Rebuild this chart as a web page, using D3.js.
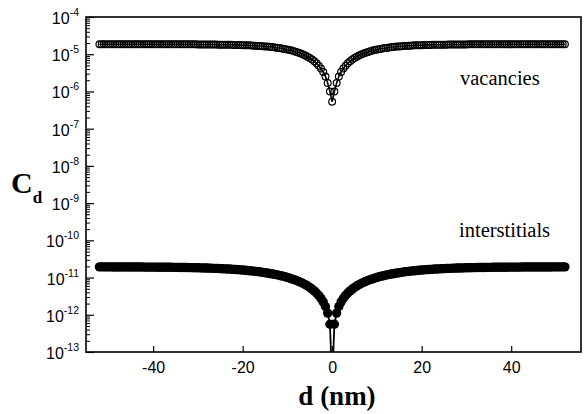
<!DOCTYPE html>
<html><head><meta charset="utf-8">
<script src="https://cdn.jsdelivr.net/npm/d3@7/dist/d3.min.js"></script>
<style>body{margin:0;background:#fff}svg{display:block}</style>
</head><body>
<svg id="chart" width="587" height="414"></svg>
<script>
// distance grid (nm), 0.5 nm steps from -52 to 52
const distance = d3.range(-104, 105).map(i => i / 2);

const vacancies = [
 1.85e-5,1.85e-5,1.85e-5,1.85e-5,
 1.85e-5,1.85e-5,1.85e-5,1.85e-5,1.85e-5,1.85e-5,1.85e-5,1.85e-5,1.85e-5,1.85e-5,
 1.85e-5,1.85e-5,1.85e-5,1.85e-5,1.85e-5,1.85e-5,1.85e-5,1.85e-5,1.85e-5,1.85e-5,
 1.84e-5,1.84e-5,1.84e-5,1.84e-5,1.84e-5,1.84e-5,1.84e-5,1.84e-5,1.84e-5,1.84e-5,
 1.84e-5,1.84e-5,1.84e-5,1.84e-5,1.84e-5,1.84e-5,1.84e-5,1.84e-5,1.84e-5,1.84e-5,
 1.83e-5,1.83e-5,1.83e-5,1.83e-5,1.83e-5,1.83e-5,1.82e-5,1.82e-5,1.82e-5,1.81e-5,
 1.81e-5,1.81e-5,1.80e-5,1.80e-5,1.79e-5,1.79e-5,1.78e-5,1.78e-5,1.77e-5,1.76e-5,
 1.75e-5,1.75e-5,1.74e-5,1.73e-5,1.71e-5,1.70e-5,1.69e-5,1.67e-5,1.66e-5,1.64e-5,
 1.62e-5,1.60e-5,1.58e-5,1.56e-5,1.53e-5,1.50e-5,1.47e-5,1.44e-5,1.41e-5,1.37e-5,
 1.33e-5,1.29e-5,1.25e-5,1.20e-5,1.15e-5,1.10e-5,1.04e-5,9.82e-6,9.20e-6,8.55e-6,
 7.87e-6,7.17e-6,6.45e-6,5.70e-6,4.92e-6,4.13e-6,3.33e-6,2.51e-6,1.68e-6,1.0e-6,
 5.3e-7,
 1.0e-6,1.68e-6,2.51e-6,3.33e-6,4.13e-6,4.92e-6,5.70e-6,6.45e-6,7.17e-6,7.87e-6,
 8.55e-6,9.20e-6,9.82e-6,1.04e-5,1.10e-5,1.15e-5,1.20e-5,1.25e-5,1.29e-5,1.33e-5,
 1.37e-5,1.41e-5,1.44e-5,1.47e-5,1.50e-5,1.53e-5,1.56e-5,1.58e-5,1.60e-5,1.62e-5,
 1.64e-5,1.66e-5,1.67e-5,1.69e-5,1.70e-5,1.71e-5,1.73e-5,1.74e-5,1.75e-5,1.75e-5,
 1.76e-5,1.77e-5,1.78e-5,1.78e-5,1.79e-5,1.79e-5,1.80e-5,1.80e-5,1.81e-5,1.81e-5,
 1.81e-5,1.82e-5,1.82e-5,1.82e-5,1.83e-5,1.83e-5,1.83e-5,1.83e-5,1.83e-5,1.83e-5,
 1.84e-5,1.84e-5,1.84e-5,1.84e-5,1.84e-5,1.84e-5,1.84e-5,1.84e-5,1.84e-5,1.84e-5,
 1.84e-5,1.84e-5,1.84e-5,1.84e-5,1.84e-5,1.84e-5,1.84e-5,1.84e-5,1.84e-5,1.84e-5,
 1.85e-5,1.85e-5,1.85e-5,1.85e-5,1.85e-5,1.85e-5,1.85e-5,1.85e-5,1.85e-5,1.85e-5,
 1.85e-5,1.85e-5,1.85e-5,1.85e-5,1.85e-5,1.85e-5,1.85e-5,1.85e-5,1.85e-5,1.85e-5,
 1.85e-5,1.85e-5,1.85e-5,1.85e-5
];

const interstitials = [
 1.94e-11,1.94e-11,1.94e-11,1.94e-11,
 1.94e-11,1.94e-11,1.93e-11,1.93e-11,1.93e-11,1.93e-11,1.93e-11,1.93e-11,1.93e-11,1.93e-11,
 1.92e-11,1.92e-11,1.92e-11,1.92e-11,1.92e-11,1.92e-11,1.91e-11,1.91e-11,1.91e-11,1.91e-11,
 1.91e-11,1.91e-11,1.90e-11,1.90e-11,1.90e-11,1.90e-11,1.89e-11,1.89e-11,1.89e-11,1.88e-11,
 1.88e-11,1.88e-11,1.87e-11,1.87e-11,1.86e-11,1.86e-11,1.85e-11,1.85e-11,1.84e-11,1.83e-11,
 1.83e-11,1.82e-11,1.81e-11,1.81e-11,1.80e-11,1.79e-11,1.78e-11,1.77e-11,1.76e-11,1.75e-11,
 1.74e-11,1.73e-11,1.71e-11,1.70e-11,1.69e-11,1.67e-11,1.66e-11,1.64e-11,1.63e-11,1.61e-11,
 1.59e-11,1.57e-11,1.55e-11,1.53e-11,1.51e-11,1.49e-11,1.46e-11,1.44e-11,1.41e-11,1.38e-11,
 1.35e-11,1.33e-11,1.29e-11,1.26e-11,1.23e-11,1.20e-11,1.16e-11,1.12e-11,1.09e-11,1.05e-11,
 1.01e-11,9.65e-12,9.23e-12,8.79e-12,8.34e-12,7.88e-12,7.41e-12,6.93e-12,6.44e-12,5.93e-12,
 5.42e-12,4.91e-12,4.38e-12,3.85e-12,3.31e-12,2.77e-12,2.22e-12,1.67e-12,1.11e-12,5.57e-13,
 0,
 5.57e-13,1.11e-12,1.67e-12,2.22e-12,2.77e-12,3.31e-12,3.85e-12,4.38e-12,4.91e-12,5.42e-12,
 5.93e-12,6.44e-12,6.93e-12,7.41e-12,7.88e-12,8.34e-12,8.79e-12,9.23e-12,9.65e-12,1.01e-11,
 1.05e-11,1.09e-11,1.12e-11,1.16e-11,1.20e-11,1.23e-11,1.26e-11,1.29e-11,1.33e-11,1.35e-11,
 1.38e-11,1.41e-11,1.44e-11,1.46e-11,1.49e-11,1.51e-11,1.53e-11,1.55e-11,1.57e-11,1.59e-11,
 1.61e-11,1.63e-11,1.64e-11,1.66e-11,1.67e-11,1.69e-11,1.70e-11,1.71e-11,1.73e-11,1.74e-11,
 1.75e-11,1.76e-11,1.77e-11,1.78e-11,1.79e-11,1.80e-11,1.81e-11,1.81e-11,1.82e-11,1.83e-11,
 1.83e-11,1.84e-11,1.85e-11,1.85e-11,1.86e-11,1.86e-11,1.87e-11,1.87e-11,1.88e-11,1.88e-11,
 1.88e-11,1.89e-11,1.89e-11,1.89e-11,1.90e-11,1.90e-11,1.90e-11,1.90e-11,1.91e-11,1.91e-11,
 1.91e-11,1.91e-11,1.91e-11,1.91e-11,1.92e-11,1.92e-11,1.92e-11,1.92e-11,1.92e-11,1.92e-11,
 1.93e-11,1.93e-11,1.93e-11,1.93e-11,1.93e-11,1.93e-11,1.93e-11,1.93e-11,1.94e-11,1.94e-11,
 1.94e-11,1.94e-11,1.94e-11,1.94e-11
];

const xTicks = [-40, -20, 0, 20, 40];
const yExponents = [-4, -5, -6, -7, -8, -9, -10, -11, -12, -13];
const labels = { vacancies: "vacancies", interstitials: "interstitials", x: "d (nm)", y: "C", ySub: "d" };

const svg = d3.select("#chart");
const L = 86, R = 581, T = 17, B = 352;

const x = d3.scaleLinear().domain([-55, 55.6]).range([L, R]);
const y = d3.scaleLog().domain([1e-13, 1e-4]).range([B, T]);

svg.append("defs").append("clipPath").attr("id", "plotclip")
  .append("rect").attr("x", L).attr("y", T).attr("width", R - L).attr("height", B - T);

const plot = svg.append("g").attr("clip-path", "url(#plotclip)");

const yPos = v => v > 0 ? y(v) : B + 30;

function series(values) {
  return distance.map((d, i) => ({ d, v: values[i] }));
}

const vac = series(vacancies);
const inter = series(interstitials);

const line = d3.line().x(p => x(p.d)).y(p => yPos(p.v));

plot.append("path").datum(vac).attr("d", line)
  .attr("fill", "none").attr("stroke", "#000").attr("stroke-width", 1.6);
plot.append("path").datum(inter).attr("d", line)
  .attr("fill", "none").attr("stroke", "#000").attr("stroke-width", 1.8);

plot.append("g").selectAll("circle").data(vac).join("circle")
  .attr("cx", p => x(p.d)).attr("cy", p => yPos(p.v)).attr("r", 3.4)
  .attr("fill", "none").attr("stroke", "#000").attr("stroke-width", 1.2);

plot.append("g").selectAll("circle").data(inter.filter(p => p.v > 0)).join("circle")
  .attr("cx", p => x(p.d)).attr("cy", p => yPos(p.v)).attr("r", 4.7)
  .attr("fill", "#000");

// Y axis: major + minor ticks (inward)
const yAxis = d3.axisLeft(y)
  .tickValues(yExponents.map(e => Math.pow(10, e)))
  .tickSizeInner(-8).tickSizeOuter(0).tickFormat("");
const yG = svg.append("g").attr("transform", `translate(${L},0)`).call(yAxis);
yG.select(".domain").remove();
yG.selectAll("line").attr("stroke", "#000").attr("stroke-width", 1.2);

const minor = [];
yExponents.slice(1).forEach(e => { for (let m = 2; m <= 9; m++) minor.push(m * Math.pow(10, e)); });
const yMinor = d3.axisLeft(y).tickValues(minor).tickSizeInner(-4).tickSizeOuter(0).tickFormat("");
const ymG = svg.append("g").attr("transform", `translate(${L},0)`).call(yMinor);
ymG.select(".domain").remove();
ymG.selectAll("line").attr("stroke", "#000").attr("stroke-width", 1);

// Y tick labels with superscripts
const yl = svg.append("g");
yExponents.forEach(e => {
  const t = yl.append("text").attr("x", 79).attr("y", y(Math.pow(10, e)) + 7)
    .attr("text-anchor", "end").attr("font-family", "Liberation Sans, Arial, sans-serif")
    .attr("fill", "#000");
  t.append("tspan").attr("font-size", 16).text("10");
  t.append("tspan").attr("font-size", 10.5).attr("dy", -8).text(String(e));
});

// X axis (inward ticks)
const xAxis = d3.axisBottom(x).tickValues(xTicks).tickSizeInner(-6).tickSizeOuter(0).tickPadding(10)
  .tickFormat(d3.format("d"));
const xG = svg.append("g").attr("transform", `translate(0,${B})`).call(xAxis);
xG.select(".domain").remove();
xG.selectAll("line").attr("stroke", "#000").attr("stroke-width", 1.2);
xG.selectAll("text").attr("font-family", "Liberation Sans, Arial, sans-serif").attr("font-size", 16)
  .attr("fill", "#000").text(d => d < 0 ? "-" + Math.abs(d) : d);

// Frame
svg.append("rect").attr("x", L).attr("y", T).attr("width", R - L).attr("height", B - T)
  .attr("fill", "none").attr("stroke", "#000").attr("stroke-width", 1.6);

// Axis titles
svg.append("text").attr("x", 337).attr("y", 405).attr("text-anchor", "middle")
  .attr("font-family", "Liberation Serif, Times New Roman, serif").attr("font-weight", "bold")
  .attr("font-size", 27).attr("fill", "#000").text(labels.x);

const yt = svg.append("text").attr("x", 11).attr("y", 193)
  .attr("font-family", "Liberation Serif, Times New Roman, serif").attr("font-weight", "bold")
  .attr("fill", "#000");
yt.append("tspan").attr("font-size", 30).text(labels.y);
yt.append("tspan").attr("font-size", 17).attr("dy", 10).text(labels.ySub);

// Annotations
svg.append("text").attr("x", 460).attr("y", 85)
  .attr("font-family", "Liberation Serif, Times New Roman, serif").attr("font-size", 20.5)
  .attr("fill", "#000").text(labels.vacancies);
svg.append("text").attr("x", 459).attr("y", 237)
  .attr("font-family", "Liberation Serif, Times New Roman, serif").attr("font-size", 20.5)
  .attr("fill", "#000").text(labels.interstitials);
</script>
</body></html>
